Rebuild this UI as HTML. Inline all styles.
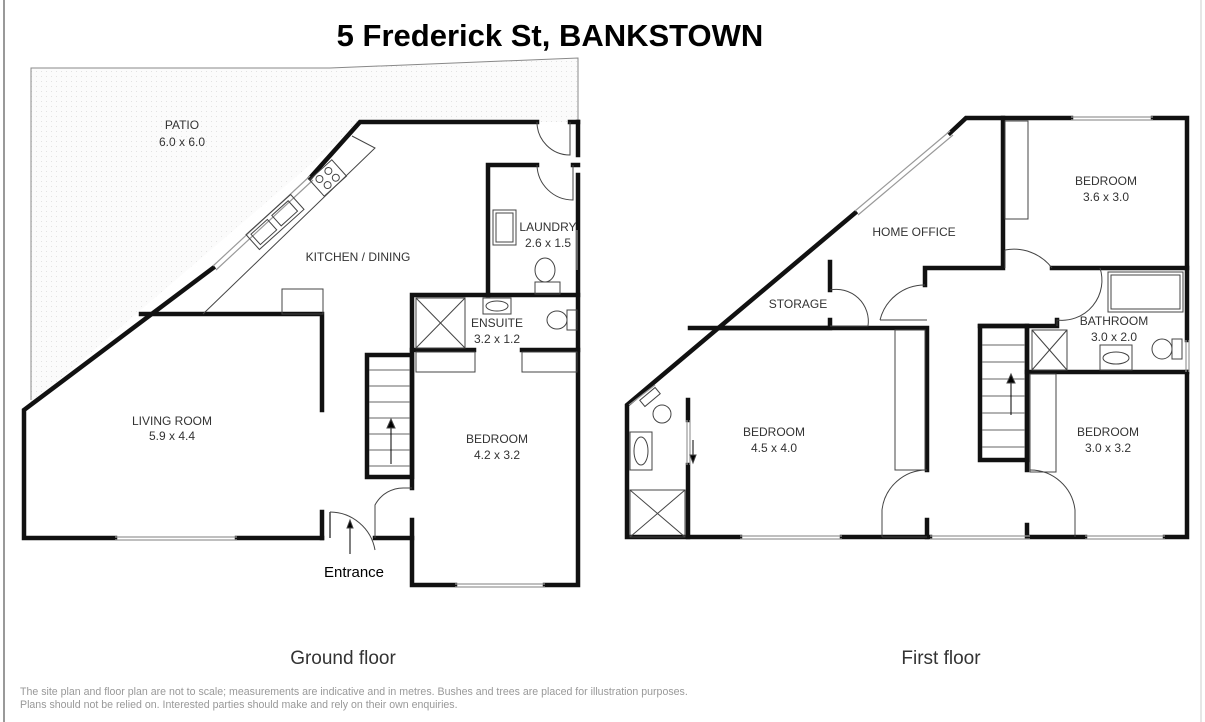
<!DOCTYPE html>
<html><head><meta charset="utf-8"><style>
html,body{margin:0;padding:0;background:#fff;}
svg{display:block;}
text{font-family:"Liberation Sans",sans-serif;}
</style></head><body>
<svg width="1205" height="722" viewBox="0 0 1205 722" xmlns="http://www.w3.org/2000/svg">
<defs>
<pattern id="dots" width="5" height="5" patternUnits="userSpaceOnUse">
<rect width="5" height="5" fill="#fbfbfb"/><rect x="1" y="1" width="1" height="1" fill="#e2e2e2"/>
</pattern>
</defs>
<rect width="1205" height="722" fill="#fff"/>
<line x1="4" y1="0" x2="4" y2="722" stroke="#999" stroke-width="2"/>
<line x1="1201" y1="0" x2="1201" y2="722" stroke="#ccc" stroke-width="1"/>

<text x="550" y="46" font-size="31" font-weight="bold" text-anchor="middle" fill="#000">5 Frederick St, BANKSTOWN</text>

<!-- Patio -->
<polygon points="31,68 330,68 578,58 578,122 360,122 24,410 31,400" fill="url(#dots)"/>
<polyline points="31,400 31,68 330,68 578,58 578,122" fill="none" stroke="#888" stroke-width="1"/>

<g stroke="#111" stroke-width="4.5" fill="none" stroke-linecap="square">
<polyline points="537,122 360,122 310,178"/>
<polyline points="213,268 24,410 24,538 115,538"/>
<line x1="237" y1="538" x2="322" y2="538"/>
<polyline points="141,314 322,314 322,410"/>
<line x1="322" y1="512" x2="322" y2="538"/>
<line x1="375" y1="538" x2="412" y2="538"/>
<polyline points="412,488 412,295 578,295"/>
<polyline points="412,520 412,585 455,585"/>
<polyline points="545,585 578,585 578,175"/>
<line x1="578" y1="122" x2="578" y2="155"/>
<line x1="570" y1="122" x2="578" y2="122"/>
<polyline points="488,295 488,165 537,165"/>
<line x1="573" y1="165" x2="578" y2="165"/>
<polyline points="412,350 474,350"/>
<polyline points="522,350 578,350"/>
<rect x="367" y="355" width="45" height="122"/>
<polyline points="1071,118 966,118 950,133"/>
<polyline points="855,213 627,405 627,537 740,537"/>
<line x1="842" y1="537" x2="930" y2="537"/>
<line x1="1030" y1="537" x2="1085" y2="537"/>
<polyline points="1165,537 1187,537 1187,372"/>
<polyline points="1187,340 1187,118 1153,118"/>
<polyline points="1003,118 1003,268 925,268 925,285"/>
<polyline points="830,262 830,290"/>
<polyline points="830,320 830,328 720,328"/>
<polyline points="690,328 927,328 927,470"/>
<line x1="927" y1="520" x2="927" y2="537"/>
<polyline points="688,400 688,420"/>
<polyline points="688,465 688,537"/>
<line x1="1052" y1="268" x2="1187" y2="268"/>
<polyline points="980,326 1057,326 1057,320"/>
<rect x="980" y="326" width="47" height="134"/>
<polyline points="1027,326 1027,470"/>
<line x1="1027" y1="525" x2="1027" y2="537"/>
<line x1="1027" y1="372" x2="1187" y2="372"/>
</g>

<g stroke="#999" stroke-width="1.2" fill="none">
<line x1="310" y1="176" x2="213" y2="266"/><line x1="313" y1="180" x2="216" y2="270"/>
<line x1="115" y1="537" x2="237" y2="537"/><line x1="115" y1="540" x2="237" y2="540"/>
<line x1="455" y1="584" x2="545" y2="584"/><line x1="455" y1="587" x2="545" y2="587"/>
<line x1="950" y1="131" x2="855" y2="211"/><line x1="953" y1="135" x2="858" y2="215"/>
<line x1="740" y1="536" x2="842" y2="536"/><line x1="740" y1="539" x2="842" y2="539"/>
<line x1="930" y1="536" x2="1030" y2="536"/><line x1="930" y1="539" x2="1030" y2="539"/>
<line x1="1085" y1="536" x2="1165" y2="536"/><line x1="1085" y1="539" x2="1165" y2="539"/>
<line x1="1071" y1="117" x2="1153" y2="117"/><line x1="1071" y1="120" x2="1153" y2="120"/>
<line x1="1186" y1="340" x2="1186" y2="372"/><line x1="1189" y1="340" x2="1189" y2="372"/>
<line x1="577" y1="230" x2="577" y2="270"/>
<line x1="629" y1="405" x2="655" y2="385"/>
<line x1="687" y1="420" x2="687" y2="465"/><line x1="690" y1="420" x2="690" y2="465"/>
</g>

<g stroke="#444" stroke-width="1" fill="none">
<polyline points="352,136 375,148 203,314"/>
<rect x="282" y="289" width="41" height="25"/>
<g transform="translate(328,178) rotate(-42)"><rect x="-15" y="-11" width="30" height="22"/><circle cx="-7" cy="-5" r="3.5"/><circle cx="5" cy="-5" r="3.5"/><circle cx="-5" cy="5" r="3.5"/><circle cx="6" cy="5" r="3.5"/></g>
<g transform="translate(275,222) rotate(-42)"><rect x="-30" y="-10" width="60" height="20"/><rect x="-26" y="-7" width="22" height="14"/><rect x="2" y="-7" width="22" height="14"/></g>
<rect x="493" y="210" width="23" height="35"/><rect x="496" y="213" width="17" height="29"/>
<ellipse cx="545" cy="270" rx="10" ry="12"/><rect x="535" y="282" width="25" height="12"/>
<path d="M537,122 A33,33 0 0 0 570,155 L570,122"/>
<path d="M537,165 A36,36 0 0 0 573,200 L573,165"/>
<rect x="416" y="298" width="49" height="50"/><line x1="416" y1="298" x2="465" y2="348"/><line x1="465" y1="298" x2="416" y2="348"/>
<rect x="483" y="298" width="28" height="16"/><ellipse cx="497" cy="306" rx="11" ry="5"/>
<ellipse cx="557" cy="320" rx="10" ry="9"/><rect x="567" y="310" width="10" height="20"/>
<rect x="416" y="352" width="59" height="20"/><rect x="522" y="352" width="55" height="20"/>
<g stroke="#666"><line x1="369" y1="370" x2="410" y2="370"/><line x1="369" y1="386" x2="410" y2="386"/><line x1="369" y1="402" x2="410" y2="402"/><line x1="369" y1="418" x2="410" y2="418"/><line x1="369" y1="434" x2="410" y2="434"/><line x1="369" y1="450" x2="410" y2="450"/><line x1="369" y1="466" x2="410" y2="466"/></g>
<line x1="391" y1="464" x2="391" y2="420" stroke="#000"/><path d="M387,428 L391,419 L395,428 Z" fill="#000"/>
<path d="M412,488 L405,488 A32,32 0 0 0 375,505 L375,538"/>
<path d="M330,512 A46,46 0 0 1 375,550"/><line x1="330" y1="512" x2="330" y2="538" stroke-width="1.5"/>
<line x1="350" y1="554" x2="350" y2="522" stroke="#000"/><path d="M347,528 L350,520 L353,528 Z" fill="#000"/>
<rect x="1005" y="121" width="23" height="98"/>
<path d="M1005,250 A48,48 0 0 1 1052,268"/><line x1="1005" y1="250" x2="1005" y2="268"/>
<path d="M1100,268 A40,40 0 0 1 1057,320 L1057,326"/>
<path d="M880,320 A46,46 0 0 1 925,285"/><line x1="880" y1="320" x2="927" y2="320"/>
<path d="M830,290 A32,32 0 0 1 868,326 L830,326"/>
<rect x="1108" y="272" width="75" height="40"/><rect x="1111" y="275" width="69" height="34"/>
<rect x="1032" y="330" width="35" height="40"/><line x1="1032" y1="330" x2="1067" y2="370"/><line x1="1067" y1="330" x2="1032" y2="370"/>
<rect x="1100" y="345" width="32" height="25"/><ellipse cx="1116" cy="358" rx="13" ry="6"/>
<ellipse cx="1162" cy="349" rx="10" ry="10"/><rect x="1172" y="339" width="10" height="20"/>
<g stroke="#666"><line x1="982" y1="345" x2="1025" y2="345"/><line x1="982" y1="362" x2="1025" y2="362"/><line x1="982" y1="379" x2="1025" y2="379"/><line x1="982" y1="396" x2="1025" y2="396"/><line x1="982" y1="413" x2="1025" y2="413"/><line x1="982" y1="430" x2="1025" y2="430"/><line x1="982" y1="447" x2="1025" y2="447"/></g>
<line x1="1011" y1="415" x2="1011" y2="375" stroke="#000"/><path d="M1007,383 L1011,374 L1015,383 Z" fill="#000"/>
<rect x="895" y="330" width="30" height="140"/>
<rect x="1030" y="374" width="26" height="98"/>
<path d="M882,537 L882,510 A45,45 0 0 1 927,470"/><line x1="882" y1="537" x2="927" y2="537"/>
<path d="M1075,537 L1075,510 A45,45 0 0 0 1030,470"/>
<rect x="630" y="490" width="55" height="47"/><line x1="630" y1="490" x2="685" y2="537"/><line x1="685" y1="490" x2="630" y2="537"/>
<rect x="630" y="432" width="22" height="38"/><ellipse cx="641" cy="451" rx="7" ry="14"/>
<circle cx="662" cy="414" r="9"/><g transform="translate(650,397) rotate(-40)"><rect x="-10" y="-4" width="20" height="8"/></g>
<line x1="693" y1="440" x2="693" y2="460" stroke="#000"/><path d="M690,455 L693,463 L696,455 Z" fill="#000"/>
</g>

<g font-size="12" fill="#333" text-anchor="middle">
<text x="182" y="129">PATIO</text><text x="182" y="146">6.0 x 6.0</text>
<text x="358" y="261">KITCHEN / DINING</text>
<text x="548" y="231">LAUNDRY</text><text x="548" y="247">2.6 x 1.5</text>
<text x="497" y="327">ENSUITE</text><text x="497" y="343">3.2 x 1.2</text>
<text x="172" y="425">LIVING ROOM</text><text x="172" y="440">5.9 x 4.4</text>
<text x="497" y="443">BEDROOM</text><text x="497" y="459">4.2 x 3.2</text>
<text x="1106" y="185">BEDROOM</text><text x="1106" y="201">3.6 x 3.0</text>
<text x="914" y="236">HOME OFFICE</text>
<text x="798" y="308">STORAGE</text>
<text x="1114" y="325">BATHROOM</text><text x="1114" y="341">3.0 x 2.0</text>
<text x="774" y="436">BEDROOM</text><text x="774" y="452">4.5 x 4.0</text>
<text x="1108" y="436">BEDROOM</text><text x="1108" y="452">3.0 x 3.2</text>
</g>
<text x="354" y="577" font-size="15" text-anchor="middle" fill="#000">Entrance</text>
<text x="343" y="664" font-size="19" text-anchor="middle" fill="#333">Ground floor</text>
<text x="941" y="664" font-size="19" text-anchor="middle" fill="#333">First floor</text>
<text x="20" y="695" font-size="10.6" fill="#999">The site plan and floor plan are not to scale; measurements are indicative and in metres. Bushes and trees are placed for illustration purposes.</text>
<text x="20" y="708" font-size="10.6" fill="#999">Plans should not be relied on. Interested parties should make and rely on their own enquiries.</text>
</svg>
</body></html>
